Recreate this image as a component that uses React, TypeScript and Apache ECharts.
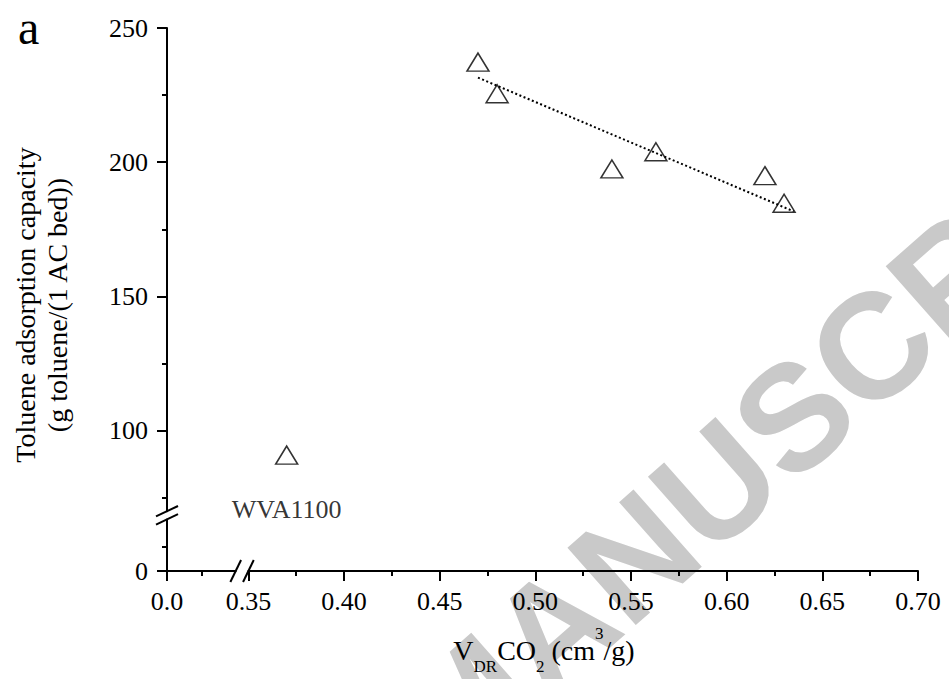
import React, { useEffect, useRef } from "react";
import * as echarts from "echarts";

// ---- data ----
const sampleX = [0.47, 0.48, 0.54, 0.563, 0.62, 0.63];
const sampleY = [237.3, 225.5, 197.5, 203.9, 195.0, 184.7];
const outlierNames = ["WVA1100"];
const outlierX = [0.37];
const outlierY = [90.9];
const fitX = [0.47, 0.635];
const fitY = [231.5, 181.7];
const yMajorTicks = [100, 150, 200, 250];
const cornerXTicks = [0];
const cornerYTicks = [0];

// ---- layout ----
const W = 949;
const H = 679;
const AXIS_X = 167; // y-axis line
const AXIS_Y = 571; // x-axis line
const MAIN_L = 248.4;
const MAIN_R = 918;
const MAIN_T = 28;
const MAIN_B = 511.2;
const CORNER_R = 235.7;
const CORNER_T = 519.4;

const SERIF = '"Liberation Serif", "Times New Roman", serif';
const BLACK = "#000";

const axisCommon = {
  type: "value" as const,
  axisLine: { show: true, onZero: false, lineStyle: { color: BLACK, width: 2 } },
  axisTick: { show: true, length: 10, lineStyle: { color: BLACK, width: 2 } },
  minorTick: { show: true, splitNumber: 2, length: 5, lineStyle: { color: BLACK, width: 2 } },
  splitLine: { show: false },
  minorSplitLine: { show: false },
};

export default function App() {
  const ref = useRef<HTMLDivElement>(null);
  useEffect(() => {
    if (!ref.current) return;
    const chart = echarts.init(ref.current, null, { renderer: "svg" });

    const brk = (cx: number, cy: number, hx: number, hy: number) => ({
      type: "line",
      z: 100,
      shape: { x1: cx - hx, y1: cy + hy, x2: cx + hx, y2: cy - hy },
      style: { stroke: BLACK, lineWidth: 2 },
    });

    const option: any = {
      animation: false,
      backgroundColor: "#fff",
      textStyle: { fontFamily: SERIF, color: BLACK },
      grid: [
        {
          left: MAIN_L,
          right: W - MAIN_R,
          top: MAIN_T,
          bottom: H - MAIN_B,
          outerBoundsMode: "none",
        },
        {
          left: AXIS_X,
          width: CORNER_R - AXIS_X,
          top: CORNER_T,
          height: AXIS_Y - CORNER_T,
          outerBoundsMode: "none",
        },
      ],
      xAxis: [
        {
          ...axisCommon,
          gridIndex: 0,
          min: 0.35,
          max: 0.7,
          interval: 0.05,
          offset: AXIS_Y - MAIN_B,
          axisLabel: {
            margin: 17,
            fontSize: 26,
            fontFamily: SERIF,
            color: BLACK,
            formatter: (v: number) => v.toFixed(2),
          },
        },
        {
          ...axisCommon,
          gridIndex: 1,
          min: 0,
          max: 0.1,
          interval: 0.1,
          axisTick: { ...axisCommon.axisTick, customValues: cornerXTicks },
          axisLabel: {
            customValues: cornerXTicks,
            margin: 17,
            fontSize: 26,
            fontFamily: SERIF,
            color: BLACK,
            formatter: (v: number) => v.toFixed(1),
          },
        },
      ],
      yAxis: [
        {
          ...axisCommon,
          gridIndex: 0,
          min: 70,
          max: 250,
          splitNumber: 4,
          offset: MAIN_L - AXIS_X,
          axisTick: { ...axisCommon.axisTick, customValues: yMajorTicks },
          axisLabel: {
            customValues: yMajorTicks,
            margin: 19,
            fontSize: 26,
            fontFamily: SERIF,
            color: BLACK,
          },
        },
        {
          ...axisCommon,
          gridIndex: 1,
          min: 0,
          max: 21,
          interval: 20,
          axisTick: { ...axisCommon.axisTick, customValues: cornerYTicks },
          axisLabel: {
            customValues: cornerYTicks,
            margin: 19,
            fontSize: 26,
            fontFamily: SERIF,
            color: BLACK,
          },
        },
      ],
      series: [
        {
          type: "line",
          xAxisIndex: 0,
          yAxisIndex: 0,
          data: fitX.map((x, i) => [x, fitY[i]]),
          symbol: "none",
          lineStyle: { color: BLACK, width: 2, type: [2, 2.5] },
          z: 2,
        },
        {
          type: "scatter",
          xAxisIndex: 0,
          yAxisIndex: 0,
          symbol: "triangle",
          symbolSize: [22, 18],
          itemStyle: { color: "rgba(0,0,0,0)", borderColor: BLACK, borderWidth: 1.5 },
          data: [
            ...sampleX.map((x, i) => [x, sampleY[i]]),
            ...outlierX.map((x, i) => ({
              value: [x, outlierY[i]],
              name: outlierNames[i],
              label: {
                show: true,
                position: "bottom",
                distance: 32,
                formatter: "{b}",
                fontSize: 26,
                fontFamily: SERIF,
                color: BLACK,
              },
            })),
          ],
          z: 3,
        },
      ],
      graphic: [
        {
          type: "text",
          z: -10,
          x: 469,
          y: 703,
          rotation: 0.724,
          silent: true,
          style: {
            text: "ACCEPTED MANUSCRIPT",
            font: 'bold 150px "Liberation Sans", Arial, sans-serif',
            fill: "#c9c9c9",
            align: "center",
            verticalAlign: "middle",
            textAlign: "center",
            textVerticalAlign: "middle",
          },
        },
        {
          type: "text",
          x: 18,
          y: 27,
          style: {
            text: "a",
            font: "48px " + SERIF,
            fill: BLACK,
            align: "left",
            verticalAlign: "middle",
            textAlign: "left",
            textVerticalAlign: "middle",
          },
        },
        {
          type: "text",
          x: 41,
          y: 305,
          rotation: Math.PI / 2,
          style: {
            text: "Toluene adsorption capacity\n(g toluene/(1 AC bed))",
            font: "28px " + SERIF,
            lineHeight: 32,
            fill: BLACK,
            align: "center",
            verticalAlign: "middle",
            textAlign: "center",
            textVerticalAlign: "middle",
          },
        },
        {
          type: "text",
          x: 544,
          y: 650,
          style: {
            text: "{n|V}{s|DR}{n|CO}{s|2}{n| (cm}{p|3}{n|/g)}",
            fill: BLACK,
            align: "center",
            verticalAlign: "middle",
            textAlign: "center",
            textVerticalAlign: "middle",
            rich: {
              n: { fontSize: 28, fontFamily: SERIF, lineHeight: 50, fill: BLACK, color: BLACK },
              s: { fontSize: 17, fontFamily: SERIF, lineHeight: 25, verticalAlign: "bottom", fill: BLACK, color: BLACK },
              p: { fontSize: 17, fontFamily: SERIF, lineHeight: 39, verticalAlign: "top", fill: BLACK, color: BLACK },
            },
          },
        },
        brk(AXIS_X, MAIN_B, 11, 5.2),
        brk(AXIS_X, CORNER_T, 11, 5.2),
        brk(CORNER_R, AXIS_Y, 5.35, 11),
        brk(MAIN_L, AXIS_Y, 5.35, 11),
      ],
    };
    chart.setOption(option);
    return () => chart.dispose();
  }, []);

  return (
    <div
      ref={ref}
      style={{ position: "fixed", left: 0, top: 0, width: W, height: H, background: "#fff" }}
    />
  );
}
